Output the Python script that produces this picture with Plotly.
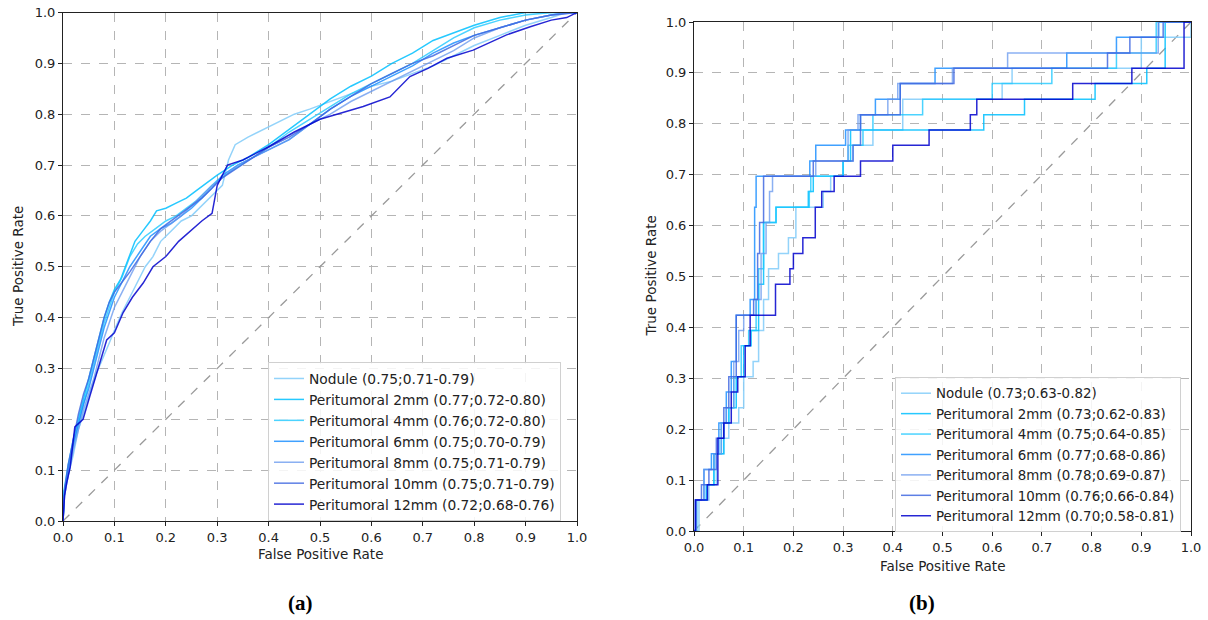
import plotly.graph_objects as go

# ---------------- data ----------------
names = ["Nodule", "Peritumoral 2mm", "Peritumoral 4mm", "Peritumoral 6mm",
         "Peritumoral 8mm", "Peritumoral 10mm", "Peritumoral 12mm"]
auc_a = ["(0.75;0.71-0.79)", "(0.77;0.72-0.80)", "(0.76;0.72-0.80)", "(0.75;0.70-0.79)",
         "(0.75;0.71-0.79)", "(0.75;0.71-0.79)", "(0.72;0.68-0.76)"]
auc_b = ["(0.73;0.63-0.82)", "(0.73;0.62-0.83)", "(0.75;0.64-0.85)", "(0.77;0.68-0.86)",
         "(0.78;0.69-0.87)", "(0.76;0.66-0.84)", "(0.70;0.58-0.81)"]
colors = ["rgba(135,206,250,0.9)", "rgba(0,191,255,0.85)", "rgba(30,200,255,0.8)",
          "rgba(30,144,255,0.85)", "rgba(100,149,237,0.75)", "rgba(65,105,225,0.85)",
          "rgba(0,0,205,0.85)"]
ticks = [0.0, 0.1, 0.2, 0.3, 0.4, 0.5, 0.6, 0.7, 0.8, 0.9, 1.0]

# panel (a)
a_nod_x = [0, 0.003, 0.01, 0.02, 0.03, 0.042, 0.055, 0.065, 0.078, 0.09, 0.102, 0.115, 0.13, 0.145, 0.16,
           0.175, 0.19, 0.21, 0.23, 0.25, 0.27, 0.29, 0.31, 0.322, 0.335, 0.36, 0.39, 0.42, 0.45, 0.48,
           0.52, 0.56, 0.6, 0.64, 0.68, 0.72, 0.76, 0.8, 0.85, 0.9, 0.95, 0.98, 1.0]
a_nod_y = [0, 0.05, 0.09, 0.13, 0.18, 0.22, 0.26, 0.29, 0.32, 0.35, 0.38, 0.41, 0.44, 0.47, 0.50,
           0.52, 0.55, 0.57, 0.59, 0.60, 0.62, 0.64, 0.66, 0.71, 0.74, 0.755, 0.77, 0.785, 0.80, 0.81,
           0.825, 0.84, 0.855, 0.865, 0.88, 0.895, 0.915, 0.935, 0.955, 0.975, 0.99, 1.0, 1.0]
a_2_x = [0, 0.002, 0.01, 0.02, 0.03, 0.04, 0.05, 0.06, 0.07, 0.08, 0.09, 0.1, 0.112, 0.125, 0.14,
         0.155, 0.17, 0.182, 0.2, 0.22, 0.24, 0.26, 0.28, 0.3, 0.33, 0.36, 0.4, 0.44, 0.48, 0.52,
         0.56, 0.6, 0.64, 0.68, 0.72, 0.76, 0.8, 0.85, 0.9, 0.95, 1.0]
a_2_y = [0, 0.06, 0.11, 0.16, 0.20, 0.24, 0.28, 0.32, 0.36, 0.40, 0.43, 0.455, 0.475, 0.51, 0.55,
         0.57, 0.59, 0.61, 0.615, 0.625, 0.635, 0.65, 0.665, 0.68, 0.70, 0.715, 0.74, 0.77, 0.80, 0.83,
         0.855, 0.875, 0.90, 0.92, 0.945, 0.96, 0.975, 0.99, 1.0, 1.0, 1.0]
a_4_x = [0, 0.002, 0.01, 0.02, 0.03, 0.04, 0.05, 0.06, 0.07, 0.08, 0.09, 0.1, 0.115, 0.13, 0.145,
         0.16, 0.18, 0.2, 0.22, 0.24, 0.26, 0.28, 0.3, 0.33, 0.36, 0.4, 0.44, 0.48, 0.52, 0.56,
         0.6, 0.64, 0.68, 0.72, 0.76, 0.8, 0.85, 0.9, 0.95, 1.0]
a_4_y = [0, 0.05, 0.10, 0.15, 0.19, 0.23, 0.27, 0.31, 0.35, 0.39, 0.42, 0.45, 0.48, 0.52, 0.545,
         0.56, 0.575, 0.59, 0.60, 0.615, 0.63, 0.65, 0.67, 0.69, 0.71, 0.735, 0.765, 0.79, 0.815, 0.84,
         0.86, 0.88, 0.90, 0.925, 0.95, 0.97, 0.985, 0.995, 1.0, 1.0]
a_6_x = [0, 0.003, 0.01, 0.02, 0.03, 0.04, 0.05, 0.06, 0.07, 0.08, 0.09, 0.1, 0.115, 0.13, 0.15,
         0.17, 0.19, 0.21, 0.23, 0.25, 0.27, 0.29, 0.31, 0.34, 0.37, 0.4, 0.44, 0.48, 0.52, 0.56,
         0.6, 0.64, 0.68, 0.72, 0.76, 0.8, 0.85, 0.9, 0.95, 0.98, 1.0]
a_6_y = [0, 0.06, 0.10, 0.15, 0.19, 0.23, 0.26, 0.30, 0.34, 0.38, 0.41, 0.44, 0.47, 0.50, 0.53,
         0.56, 0.575, 0.585, 0.60, 0.615, 0.635, 0.655, 0.68, 0.70, 0.715, 0.73, 0.75, 0.78, 0.81, 0.835,
         0.855, 0.875, 0.895, 0.92, 0.94, 0.955, 0.97, 0.985, 0.995, 1.0, 1.0]
a_8_x = [0, 0.003, 0.01, 0.02, 0.03, 0.04, 0.05, 0.06, 0.07, 0.08, 0.09, 0.1, 0.115, 0.13, 0.15,
         0.17, 0.19, 0.21, 0.23, 0.25, 0.27, 0.29, 0.31, 0.34, 0.37, 0.4, 0.44, 0.48, 0.52, 0.56,
         0.6, 0.64, 0.68, 0.72, 0.76, 0.8, 0.85, 0.9, 0.95, 1.0]
a_8_y = [0, 0.05, 0.09, 0.14, 0.18, 0.22, 0.25, 0.28, 0.32, 0.36, 0.39, 0.42, 0.45, 0.48, 0.52,
         0.55, 0.57, 0.585, 0.60, 0.62, 0.64, 0.66, 0.675, 0.70, 0.715, 0.73, 0.75, 0.78, 0.80, 0.825,
         0.845, 0.865, 0.885, 0.905, 0.925, 0.95, 0.97, 0.985, 0.995, 1.0]
a_10_x = [0, 0.003, 0.01, 0.02, 0.03, 0.04, 0.05, 0.06, 0.07, 0.08, 0.09, 0.1, 0.115, 0.13, 0.15,
          0.17, 0.19, 0.21, 0.23, 0.25, 0.27, 0.29, 0.31, 0.34, 0.37, 0.4, 0.44, 0.48, 0.52, 0.56,
          0.6, 0.64, 0.68, 0.72, 0.76, 0.8, 0.85, 0.9, 0.95, 1.0]
a_10_y = [0, 0.06, 0.11, 0.16, 0.21, 0.25, 0.28, 0.32, 0.36, 0.40, 0.43, 0.45, 0.47, 0.49, 0.52,
          0.55, 0.575, 0.59, 0.605, 0.62, 0.635, 0.655, 0.675, 0.695, 0.715, 0.735, 0.755, 0.78, 0.81, 0.835,
          0.86, 0.88, 0.90, 0.915, 0.935, 0.955, 0.97, 0.985, 0.995, 1.0]
a_12_x = [0, 0.003, 0.007, 0.014, 0.023, 0.039, 0.052, 0.062, 0.072, 0.085, 0.1, 0.117, 0.135, 0.156, 0.175,
          0.2, 0.225, 0.25, 0.27, 0.29, 0.3, 0.32, 0.35, 0.4, 0.45, 0.5, 0.55, 0.584, 0.636, 0.675,
          0.71, 0.747, 0.798, 0.83, 0.863, 0.909, 0.95, 0.98, 1.0]
a_12_y = [0, 0.05, 0.074, 0.106, 0.185, 0.20, 0.245, 0.28, 0.31, 0.356, 0.37, 0.41, 0.44, 0.468, 0.50,
          0.52, 0.55, 0.572, 0.59, 0.605, 0.66, 0.70, 0.71, 0.736, 0.765, 0.79, 0.805, 0.815, 0.834, 0.874,
          0.89, 0.91, 0.926, 0.94, 0.956, 0.972, 0.985, 0.99, 1.0]

# panel (b)  (step curves, value holds until next x)
b_nod_x = [0, 0.01, 0.03, 0.045, 0.06, 0.07, 0.09, 0.1, 0.119, 0.13, 0.14, 0.15, 0.17, 0.19, 0.205,
           0.26, 0.275, 0.3, 0.32, 0.36, 0.42, 0.47, 0.62, 0.64, 0.9, 1.0]
b_nod_y = [0, 0.061, 0.091, 0.152, 0.182, 0.212, 0.242, 0.303, 0.333, 0.394, 0.455, 0.515, 0.545, 0.576, 0.636,
           0.667, 0.697, 0.727, 0.758, 0.788, 0.848, 0.848, 0.879, 0.909, 0.97, 1.0]
b_2_x = [0, 0.005, 0.025, 0.04, 0.06, 0.07, 0.085, 0.1, 0.115, 0.13, 0.14, 0.165, 0.23, 0.24, 0.3,
         0.315, 0.583, 0.665, 0.807, 0.911, 0.948, 1.0]
b_2_y = [0, 0.061, 0.091, 0.152, 0.212, 0.242, 0.303, 0.364, 0.394, 0.485, 0.606, 0.636, 0.667, 0.697, 0.727,
         0.788, 0.818, 0.848, 0.879, 0.909, 1.0, 1.0]
b_4_x = [0, 0.005, 0.025, 0.04, 0.055, 0.07, 0.08, 0.095, 0.11, 0.125, 0.13, 0.14, 0.165, 0.232, 0.235,
         0.3, 0.31, 0.34, 0.36, 0.46, 0.6, 0.72, 0.85, 0.93, 1.0]
b_4_y = [0, 0.061, 0.091, 0.152, 0.212, 0.242, 0.303, 0.364, 0.394, 0.455, 0.515, 0.606, 0.636, 0.667, 0.697,
         0.727, 0.758, 0.788, 0.818, 0.848, 0.879, 0.909, 0.939, 1.0, 1.0]
b_6_x = [0, 0.003, 0.02, 0.035, 0.05, 0.065, 0.075, 0.085, 0.1, 0.113, 0.122, 0.125, 0.233, 0.245, 0.305,
         0.315, 0.335, 0.365, 0.4, 0.415, 0.485, 0.6, 0.75, 0.85, 0.935, 1.0]
b_6_y = [0, 0.061, 0.121, 0.152, 0.212, 0.273, 0.333, 0.424, 0.424, 0.455, 0.636, 0.697, 0.727, 0.758, 0.788,
         0.788, 0.818, 0.848, 0.848, 0.879, 0.909, 0.909, 0.939, 0.97, 1.0, 1.0]
b_8_x = [0, 0.005, 0.02, 0.04, 0.055, 0.065, 0.08, 0.09, 0.1, 0.125, 0.135, 0.145, 0.152, 0.158, 0.245,
         0.31, 0.33, 0.39, 0.41, 0.52, 0.631, 0.934, 1.0]
b_8_y = [0, 0.061, 0.121, 0.152, 0.212, 0.242, 0.333, 0.394, 0.424, 0.455, 0.545, 0.606, 0.667, 0.697, 0.727,
         0.788, 0.818, 0.848, 0.879, 0.909, 0.939, 1.0, 1.0]
b_10_x = [0, 0.003, 0.015, 0.03, 0.045, 0.06, 0.07, 0.085, 0.12, 0.128, 0.132, 0.14, 0.24, 0.26, 0.32,
          0.335, 0.37, 0.415, 0.485, 0.523, 0.832, 0.877, 0.944, 1.0]
b_10_y = [0, 0.061, 0.091, 0.121, 0.182, 0.242, 0.303, 0.424, 0.455, 0.545, 0.606, 0.697, 0.727, 0.727, 0.758,
          0.818, 0.818, 0.879, 0.879, 0.909, 0.939, 0.97, 1.0, 1.0]
b_12_x = [0, 0.003, 0.027, 0.048, 0.06, 0.075, 0.088, 0.103, 0.113, 0.164, 0.193, 0.2, 0.219, 0.244, 0.257,
          0.282, 0.335, 0.4, 0.473, 0.556, 0.569, 0.762, 0.881, 0.986, 1.0]
b_12_y = [0, 0.061, 0.091, 0.182, 0.212, 0.273, 0.303, 0.364, 0.424, 0.485, 0.515, 0.545, 0.576, 0.636, 0.667,
          0.697, 0.727, 0.758, 0.788, 0.818, 0.848, 0.879, 0.909, 1.0, 1.0]

curves_a = [(a_nod_x, a_nod_y), (a_2_x, a_2_y), (a_4_x, a_4_y), (a_6_x, a_6_y),
            (a_8_x, a_8_y), (a_10_x, a_10_y), (a_12_x, a_12_y)]
curves_b = [(b_nod_x, b_nod_y), (b_2_x, b_2_y), (b_4_x, b_4_y), (b_6_x, b_6_y),
            (b_8_x, b_8_y), (b_10_x, b_10_y), (b_12_x, b_12_y)]

# ---------------- figure ----------------
FONT = "DejaVu Sans"
fig = go.Figure()

for ax in ("", "2"):
    fig.add_trace(go.Scatter(x=[0, 1], y=[0, 1], mode="lines", showlegend=False,
                             line=dict(color="#9a9a9a", width=1.3, dash="dash"),
                             xaxis="x" + ax, yaxis="y" + ax, hoverinfo="skip"))

for i, (cx, cy) in enumerate(curves_a):
    fig.add_trace(go.Scatter(x=cx, y=cy, mode="lines", name=f"{names[i]} {auc_a[i]}",
                             line=dict(color=colors[i], width=1.5), legend="legend",
                             legendgroup=f"a{i}", xaxis="x", yaxis="y"))
for i, (cx, cy) in enumerate(curves_b):
    fig.add_trace(go.Scatter(x=cx, y=cy, mode="lines", name=f"{names[i]} {auc_b[i]}",
                             line=dict(color=colors[i], width=1.5, shape="hv"), legend="legend2",
                             legendgroup=f"b{i}", xaxis="x2", yaxis="y2"))

W, H = 1208, 620
axis_common = dict(range=[0, 1], tickvals=ticks, ticktext=[f"{t:.1f}" for t in ticks],
                   showgrid=True, gridcolor="#b5b5b5", griddash="dash", gridwidth=1,
                   showline=True, linecolor="#222", linewidth=1, mirror=True,
                   ticks="outside", ticklen=4, tickcolor="#222", zeroline=False,
                   automargin=False,
                   tickfont=dict(family=FONT, size=13, color="#222"))

fig.update_layout(
    width=W, height=H, margin=dict(l=0, r=0, t=0, b=0, autoexpand=False),
    paper_bgcolor="white", plot_bgcolor="white",
    font=dict(family=FONT, size=13, color="#222"),
    xaxis=dict(domain=[63 / W, 577 / W], anchor="y", **axis_common),
    yaxis=dict(domain=[1 - 521 / H, 1 - 12.5 / H], anchor="x", **axis_common),
    xaxis2=dict(domain=[694 / W, 1191 / W], anchor="y2", **axis_common),
    yaxis2=dict(domain=[1 - 531 / H, 1 - 22 / H], anchor="x2", **axis_common),
    legend=dict(x=268 / W, y=1 - 362 / H, xanchor="left", yanchor="top",
                bgcolor="rgba(255,255,255,0.85)", bordercolor="#d0d0d0", borderwidth=1,
                font=dict(family=FONT, size=13.8, color="#222"), tracegroupgap=0,
                itemwidth=30),
    legend2=dict(x=895 / W, y=1 - 377 / H, xanchor="left", yanchor="top",
                 bgcolor="rgba(255,255,255,0.85)", bordercolor="#d0d0d0", borderwidth=1,
                 font=dict(family=FONT, size=13.4, color="#222"), tracegroupgap=0,
                 itemwidth=30),
    showlegend=True,
)

annots = [
    dict(text="False Positive Rate", x=320 / W, y=1 - 554 / H),
    dict(text="False Positive Rate", x=942.5 / W, y=1 - 566 / H),
    dict(text="True Positive Rate", x=18 / W, y=1 - 267 / H, textangle=-90),
    dict(text="True Positive Rate", x=650 / W, y=1 - 276.5 / H, textangle=-90),
]
for a in annots:
    fig.add_annotation(xref="paper", yref="paper", showarrow=False, xanchor="center", yanchor="middle",
                       font=dict(family=FONT, size=13.5, color="#222"), **a)
for txt, xp in (("(a)", 300), ("(b)", 922)):
    fig.add_annotation(text=f"<b>{txt}</b>", xref="paper", yref="paper", x=xp / W, y=1 - 603 / H,
                       showarrow=False, xanchor="center", yanchor="middle",
                       font=dict(family="Liberation Serif", size=21, color="black"))

fig.write_html("out.html", config={"displayModeBar": False},
               post_script="document.body.style.margin='0px';document.body.style.overflow='hidden';")
